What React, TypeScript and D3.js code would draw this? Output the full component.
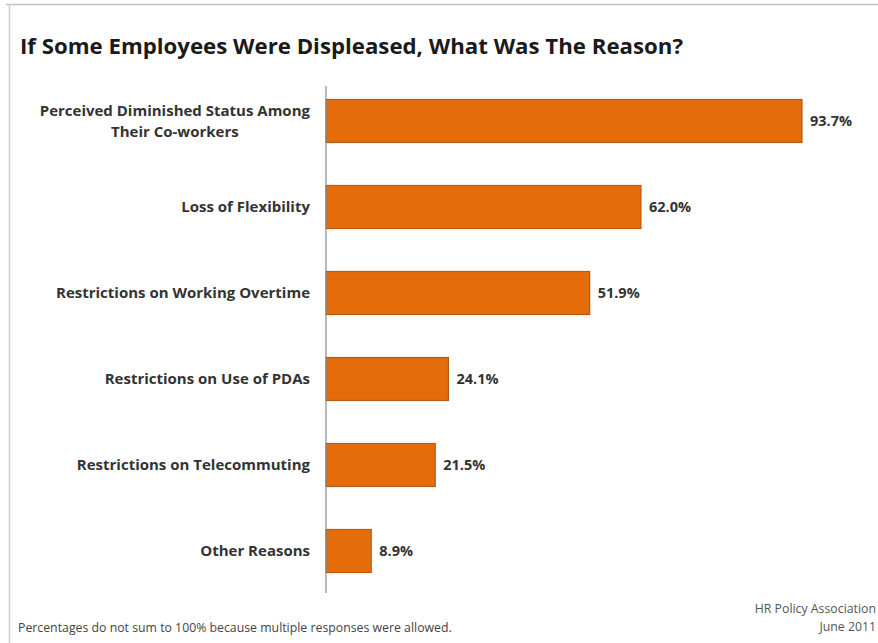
import React, { useEffect, useRef } from "react";
import * as d3 from "d3";

const categories = [
  ["Perceived Diminished Status Among", "Their Co-workers"],
  ["Loss of Flexibility"],
  ["Restrictions on Working Overtime"],
  ["Restrictions on Use of PDAs"],
  ["Restrictions on Telecommuting"],
  ["Other Reasons"],
];
const values = [93.7, 62.0, 51.9, 24.1, 21.5, 8.9];
const valueLabels = ["93.7%", "62.0%", "51.9%", "24.1%", "21.5%", "8.9%"];
const title = "If Some Employees Were Displeased, What Was The Reason?";
const footnote = "Percentages do not sum to 100% because multiple responses were allowed.";
const sourceLines = ["HR Policy Association", "June 2011"];

const W = 878;
const H = 643;
const FONT = "'Open Sans', Lato, sans-serif";

export default function App() {
  const ref = useRef<SVGSVGElement>(null);

  useEffect(() => {
    const svg = d3.select(ref.current);
    svg.selectAll("*").remove();

    // frame
    svg.append("line").attr("x1", 6).attr("x2", W).attr("y1", 4.5).attr("y2", 4.5)
      .attr("stroke", "#c4c4c4").attr("stroke-width", 1.5);
    svg.append("line").attr("x1", 9.5).attr("x2", 9.5).attr("y1", 4).attr("y2", H)
      .attr("stroke", "#d0d0d0").attr("stroke-width", 1.5);

    svg.append("text").attr("x", 20).attr("y", 54)
      .attr("font-family", FONT).attr("font-weight", 700).attr("font-size", 21)
      .attr("textLength", 663).attr("lengthAdjust", "spacingAndGlyphs")
      .attr("fill", "#1a1a1a").text(title);

    const idx = values.map((_, i) => String(i));
    const y = d3.scaleBand<string>().domain(idx).range([78, 594]).paddingInner(0.5).paddingOuter(0.25);
    const x = d3.scaleLinear().domain([0, 100]).range([326, 834]);

    const g = svg.append("g");
    g.selectAll("rect").data(values).join("rect")
      .attr("x", x(0))
      .attr("y", (_, i) => y(String(i))!)
      .attr("width", (d) => x(d) - x(0))
      .attr("height", y.bandwidth())
      .attr("fill", "#E46C0A")
      .attr("stroke", "#B65A14")
      .attr("stroke-width", 1.2);

    // axis line
    g.append("line").attr("x1", x(0)).attr("x2", x(0)).attr("y1", 86).attr("y2", 593)
      .attr("stroke", "#8a8a8a").attr("stroke-width", 1.2);

    // value labels
    g.selectAll("text.val").data(values).join("text").attr("class", "val")
      .attr("x", (d) => x(d) + 8)
      .attr("y", (_, i) => y(String(i))! + y.bandwidth() / 2 + 5)
      .attr("font-family", FONT).attr("font-weight", 700).attr("font-size", 14.5)
      .attr("fill", "#333").text((_, i) => valueLabels[i]);

    // category labels
    categories.forEach((lines, i) => {
      const cy = y(String(i))! + y.bandwidth() / 2;
      const lh = 21;
      const t0 = cy - ((lines.length - 1) * lh) / 2 + 5;
      const first = g.append("text").attr("x", 310).attr("y", t0)
        .attr("text-anchor", "end")
        .attr("font-family", FONT).attr("font-weight", 700).attr("font-size", 15)
        .attr("fill", "#333").text(lines[0]);
      const w0 = (first.node() as SVGTextElement).getComputedTextLength();
      lines.slice(1).forEach((ln, j) => {
        g.append("text").attr("x", 310 - w0 / 2).attr("y", t0 + (j + 1) * lh)
          .attr("text-anchor", "middle")
          .attr("font-family", FONT).attr("font-weight", 700).attr("font-size", 15)
          .attr("fill", "#333").text(ln);
      });
    });

    svg.append("text").attr("x", 18).attr("y", 632)
      .attr("font-family", FONT).attr("font-size", 12.3).attr("fill", "#444").text(footnote);

    sourceLines.forEach((s, i) => {
      svg.append("text").attr("x", 876).attr("y", 613 + i * 18).attr("text-anchor", "end")
        .attr("font-family", FONT).attr("font-size", 12.3).attr("fill", "#555").text(s);
    });
  }, []);

  return (
    <svg ref={ref} width={W} height={H}
      style={{ position: "absolute", left: 0, top: 0, display: "block", background: "#fff" }} />
  );
}
